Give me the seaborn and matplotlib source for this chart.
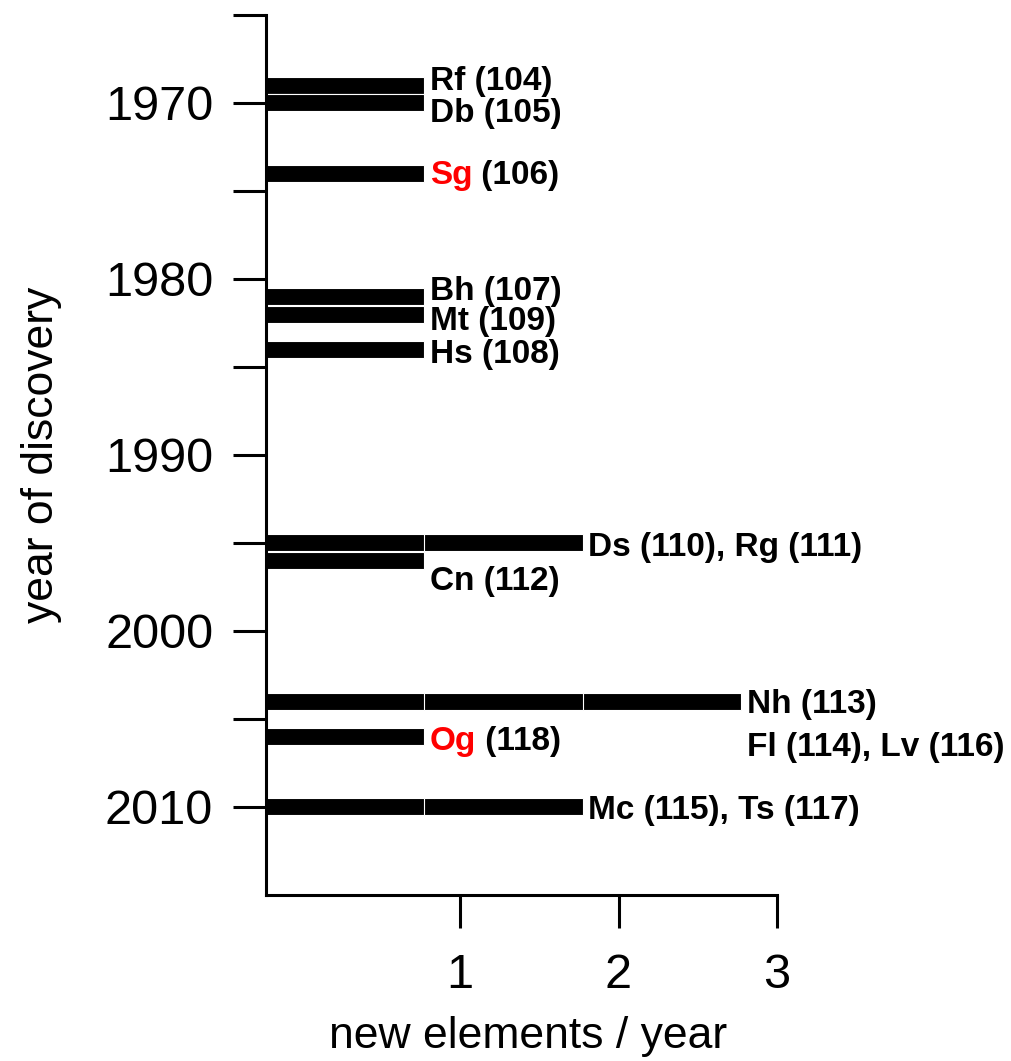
import matplotlib
matplotlib.use("Agg")
import matplotlib.pyplot as plt
import seaborn as sns
import pandas as pd

# ---- data ----
years = [1969, 1970, 1974, 1981, 1982, 1984, 1995, 1996, 2004, 2006, 2010]
counts = [1, 1, 1, 1, 1, 1, 2, 1, 3, 1, 2]

label_texts = ["Rf (104)", "Db (105)", "Sg (106)", "Bh (107)", "Mt (109)", "Hs (108)",
               "Ds (110), Rg (111)", "Cn (112)", "Nh (113)", "Og (118)",
               "Fl (114), Lv (116)", "Mc (115), Ts (117)"]
# index of the bar whose end each label sits after
label_bar = [0, 1, 2, 3, 4, 5, 6, 7, 8, 9, 8, 10]
# vertical nudge of each label relative to its bar (layout only)
label_dy = [-0.4, 0.4, -0.1, -0.5, 0.2, 0.1, 0.05, 1.0, 0.0, 0.1, 2.4, 0.0]
red_symbols = ["Sg", "Og"]

year_ticks = [1970, 1980, 1990, 2000, 2010]
year_minor = [1965, 1975, 1985, 1995, 2005]
x_ticks = [1, 2, 3]

X0 = -0.225  # left edge of the x axis (bars start here)

# long table: one row per cumulative segment end
rows = []
for y, c in zip(years, counts):
    for k in range(1, c + 1):
        rows.append({"year": y, "end": k, "level": str(k)})
df = pd.DataFrame(rows)

sns.set_theme(style="ticks")
plt.rcParams["font.family"] = ["Liberation Sans", "DejaVu Sans"]

fig = plt.figure(figsize=(10.12, 10.61), dpi=100)
ax = fig.add_axes([0.2628, 0.1565, 0.505, 0.8294])

levels = [str(k) for k in range(max(counts), 0, -1)]
sns.barplot(data=df, y="year", x="end", hue="level", hue_order=levels,
            palette=["black"] * len(levels), dodge=False, native_scale=True,
            orient="h", width=0.97, left=X0, edgecolor="white", linewidth=0.8,
            saturation=1, legend=False, errorbar=None, ax=ax)

ax.set_xlim(X0, 3)
ax.set_ylim(2015, 1965)
ax.set_yticks(year_ticks)
ax.set_yticklabels([str(t) for t in year_ticks])
ax.set_yticks(year_minor, minor=True)
ax.set_xticks(x_ticks)
ax.set_xticklabels([str(t) for t in x_ticks])

for s in ["top", "right"]:
    ax.spines[s].set_visible(False)
for s in ["left", "bottom"]:
    ax.spines[s].set_linewidth(2.2)
    ax.spines[s].set_color("black")

ax.tick_params(axis="both", which="both", direction="out", length=24, width=2.2,
               color="black", labelsize=35, labelcolor="black")
ax.tick_params(axis="y", which="both", pad=14)
ax.tick_params(axis="x", which="both", pad=18)

ax.set_xlabel("new elements / year", fontsize=32, color="black")
ax.set_ylabel("year of discovery", fontsize=32, color="black")
ax.yaxis.set_label_coords(-0.40, 0.5)
ax.xaxis.set_label_coords(0.513, -0.138)

pad = 0.035
for txt, bi, dy in zip(label_texts, label_bar, label_dy):
    xe = X0 + counts[bi] + pad
    ye = years[bi] + dy
    head = txt.split(" ")[0]
    if head in red_symbols:
        rest = txt[len(head):]
        t = ax.text(xe, ye, head, color="red", fontsize=24, fontweight="bold",
                    ha="left", va="center_baseline")
        ax.annotate(rest, xy=(1, 0), xycoords=t, color="black", fontsize=24,
                    fontweight="bold", ha="left", va="bottom")
    else:
        ax.text(xe, ye, txt, color="black", fontsize=24, fontweight="bold",
                ha="left", va="center_baseline")

fig.savefig("out.png", dpi=100)
